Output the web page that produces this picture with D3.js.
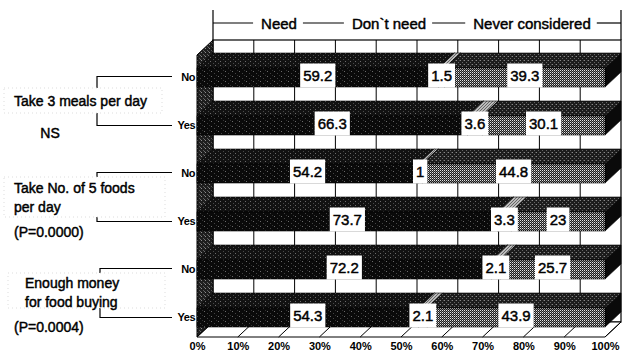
<!DOCTYPE html>
<html>
<head>
<meta charset="utf-8">
<script src="https://cdn.jsdelivr.net/npm/d3@7"></script>
<style>
  html, body { margin: 0; padding: 0; background: #fff; }
  svg { display: block; font-family: "Liberation Sans", Arial, sans-serif; }
</style>
</head>
<body>
<svg id="chart" width="627" height="356"></svg>
<script>
// ---------------- data ----------------
const seriesNames = ["Need", "Don`t need", "Never considered"];
const rowLabels = ["No", "Yes", "No", "Yes", "No", "Yes"];
const need      = [59.2, 66.3, 54.2, 73.7, 72.2, 54.3];
const dontNeed  = [1.5, 3.6, 1, 3.3, 2.1, 2.1];
const never     = [39.3, 30.1, 44.8, 23, 25.7, 43.9];
const groupLines = [["Take 3 meals per day"], ["Take No. of 5 foods", "per day"], ["Enough money", "for food buying"]];
const groupStats = ["NS", "(P=0.0000)", "(P=0.0004)"];
const tickValues = [0, 10, 20, 30, 40, 50, 60, 70, 80, 90, 100];

// ---------------- setup ----------------
const svg = d3.select("#chart");
const x = d3.scaleLinear().domain([0, 100]).range([197, 605]);
const y = d3.scalePoint().domain(d3.range(rowLabels.length)).range([68, 308]);
const BH = 19, DX = 16, DY = 15;
const wallTop = 40, floorFront = 337, floorBack = floorFront - DY;

const defs = svg.append("defs");
function pat(id, w, h, bg, dots) {
  const p = defs.append("pattern").attr("id", id).attr("patternUnits", "userSpaceOnUse")
    .attr("width", w).attr("height", h);
  p.append("rect").attr("width", w).attr("height", h).attr("fill", bg);
  dots.forEach(d => p.append("rect").attr("x", d[0]).attr("y", d[1]).attr("width", d[2] || 1).attr("height", d[3] || 1).attr("fill", d[4]));
}
pat("blk", 7, 5, "#0a0a0a", [[1, 1, 1, 1, "#6a6a6a"], [4, 3, 1, 1, "#444"], [6, 0, 1, 1, "#333"]]);
pat("blkTop", 5, 4, "#121212", [[0, 1, 1, 1, "#6a6a6a"], [3, 3, 1, 1, "#4a4a4a"]]);
pat("chk", 2, 2, "#1c1c1c", [[0, 0, 1, 1, "#e4e4e4"], [1, 1, 1, 1, "#7a7a7a"]]);
pat("chkTop", 4, 4, "#1c1c1c", [[0, 0, 1, 1, "#888"], [2, 2, 1, 1, "#666"], [3, 0, 1, 1, "#444"]]);
pat("mid", 3, 3, "#999", [[0, 0, 1, 1, "#444"], [1, 1, 1, 1, "#555"], [2, 2, 1, 1, "#444"]]);
pat("midTop", 3, 3, "#bbb", [[0, 2, 1, 1, "#666"], [1, 1, 1, 1, "#666"], [2, 0, 1, 1, "#666"]]);
pat("wall", 4, 4, "#1e1e1e", [[1, 0, 1, 1, "#8a8a8a"], [3, 2, 1, 1, "#5a5a5a"], [0, 3, 1, 1, "#6a6a6a"]]);

const fills = [
  { front: "url(#blk)", top: "url(#blkTop)", side: "#0a0a0a" },
  { front: "url(#mid)", top: "url(#midTop)", side: "#333" },
  { front: "url(#chk)", top: "url(#chkTop)", side: "#0a0a0a" }
];

// ---------------- back wall, grid, side wall, floor ----------------
const g3d = svg.append("g");
g3d.append("rect").attr("x", x(0) + DX).attr("y", wallTop)
  .attr("width", x(100) - x(0)).attr("height", floorBack - wallTop)
  .attr("fill", "#fff").attr("stroke", "#000").attr("stroke-width", 1.2);
g3d.selectAll("line.grid").data(tickValues.slice(1, -1)).join("line")
  .attr("class", "grid")
  .attr("x1", d => x(d) + DX).attr("x2", d => x(d) + DX)
  .attr("y1", wallTop).attr("y2", floorBack)
  .attr("stroke", "#000").attr("stroke-width", 1);

g3d.append("path")
  .attr("d", `M${x(0)},${wallTop + DY} L${x(0) + DX},${wallTop} L${x(0) + DX},${floorBack} L${x(0)},${floorFront} Z`)
  .attr("fill", "url(#wall)").attr("stroke", "#000").attr("stroke-width", 1);

g3d.append("path")
  .attr("d", `M${x(0)},${floorFront} L${x(0) + DX},${floorBack} L${x(100) + DX},${floorBack} L${x(100)},${floorFront} Z`)
  .attr("fill", "#fff").attr("stroke", "#000").attr("stroke-width", 1);
g3d.selectAll("line.floor").data(tickValues).join("line")
  .attr("class", "floor")
  .attr("x1", d => x(d)).attr("y1", floorFront)
  .attr("x2", d => x(d) + DX).attr("y2", floorBack)
  .attr("stroke", "#000").attr("stroke-width", 1);

// ---------------- bars ----------------
const rows = rowLabels.map((lab, i) => {
  const vals = [need[i], dontNeed[i], never[i]];
  let acc = 0;
  const segs = vals.map((v, k) => { const s = { k, v, x0: acc, x1: acc + v, row: i }; acc += v; return s; });
  return { lab, i, segs };
});

const barG = svg.append("g");
rows.forEach(r => {
  const yt = y(r.i), yb = yt + BH;
  r.segs.forEach(s => {
    const a = x(s.x0), b = x(Math.min(100, s.x1));
    const f = fills[s.k];
    barG.append("path")
      .attr("d", `M${b},${yt} L${b + DX},${yt - DY} L${b + DX},${yb - DY} L${b},${yb} Z`)
      .attr("fill", f.side).attr("stroke", "#000").attr("stroke-width", 0.6);
    barG.append("path")
      .attr("d", `M${a},${yt} L${a + DX},${yt - DY} L${b + DX},${yt - DY} L${b},${yt} Z`)
      .attr("fill", f.top).attr("stroke", "#000").attr("stroke-width", 0.6);
    barG.append("rect").attr("x", a).attr("y", yt).attr("width", b - a).attr("height", BH)
      .attr("fill", f.front).attr("stroke", "#000").attr("stroke-width", 0.6);
  });
});

// value labels
const labG = svg.append("g").attr("font-size", 15).attr("fill", "#000");
rows.forEach(r => {
  const yc = y(r.i) + BH / 2 - 2;
  r.segs.forEach(s => {
    const cx = (x(s.x0) + x(Math.min(100, s.x1))) / 2;
    const t = labG.append("text").attr("x", cx).attr("y", yc)
      .attr("text-anchor", "middle").attr("dominant-baseline", "central")
      .attr("stroke", "#000").attr("stroke-width", 0.45)
      .text(String(s.v));
    const w = t.node().getComputedTextLength();
    labG.insert("rect", () => t.node())
      .attr("x", cx - w / 2 - 3).attr("y", yc - 12).attr("width", w + 6).attr("height", 24)
      .attr("fill", "#fff");
  });
});

// ---------------- bottom axis ----------------
const axis = svg.append("g").attr("transform", `translate(0,${floorFront + 3})`)
  .call(d3.axisBottom(x).tickValues(tickValues).tickSize(0).tickPadding(2).tickFormat(d => d + "%"));
axis.select(".domain").remove();
axis.selectAll("text").attr("font-size", 11).attr("font-weight", "bold")
  .attr("font-family", "Liberation Sans, Arial, sans-serif").attr("fill", "#000");

// ---------------- row labels & brackets ----------------
const leftG = svg.append("g");
leftG.selectAll("text.row").data(rowLabels).join("text")
  .attr("class", "row")
  .attr("x", 195).attr("y", (d, i) => y(i) + BH / 2 - 1)
  .attr("text-anchor", "end").attr("dominant-baseline", "central")
  .attr("font-size", 11).attr("font-weight", "bold").attr("letter-spacing", -0.5)
  .text(d => d);

const bracketX = [97, 97, 100];
const boxes = [
  { x: 4, y: 88, w: 158, h: 25, tx: 14, ty: [101] },
  { x: 4, y: 177, w: 161, h: 40, tx: 14, ty: [188, 207] },
  { x: 8, y: 273, w: 157, h: 35, tx: 25, ty: [283, 302] }
];
const statPos = [{ x: 50, y: 133, anchor: "middle" }, { x: 14, y: 232, anchor: "start" }, { x: 14, y: 327, anchor: "start" }];

groupLines.forEach((lines, g) => {
  const yTop = y(2 * g) + BH / 2 - 1, yBot = y(2 * g + 1) + BH / 2;
  leftG.append("path")
    .attr("d", `M172,${yTop} H${bracketX[g]} V${yBot} H172`)
    .attr("fill", "none").attr("stroke", "#000").attr("stroke-width", 1.2);
  const b = boxes[g];
  leftG.append("rect").attr("x", b.x).attr("y", b.y).attr("width", b.w).attr("height", b.h)
    .attr("fill", "#fff").attr("stroke", "#d4d4d4").attr("stroke-width", 0.8).attr("stroke-dasharray", "1,3");
  lines.forEach((ln, j) => {
    leftG.append("text").attr("x", b.tx).attr("y", b.ty[j])
      .attr("dominant-baseline", "central").attr("font-size", 14)
      .attr("stroke", "#000").attr("stroke-width", 0.45)
      .text(ln);
  });
  const sp = statPos[g];
  leftG.append("text").attr("x", sp.x).attr("y", sp.y).attr("text-anchor", sp.anchor)
    .attr("dominant-baseline", "central").attr("font-size", 14)
    .attr("stroke", "#000").attr("stroke-width", 0.45)
    .text(groupStats[g]);
});

// ---------------- top legend ----------------
const legY = 23;
const legCenters = [279, 389, 532];
const legG = svg.append("g");
const legX0 = x(0) + DX, legX1 = x(100) + DX;
const extents = [];
seriesNames.forEach((n, k) => {
  const t = legG.append("text").attr("x", legCenters[k]).attr("y", legY)
    .attr("text-anchor", "middle").attr("dominant-baseline", "central")
    .attr("font-size", 15).attr("stroke", "#000").attr("stroke-width", 0.45).text(n);
  const w = t.node().getComputedTextLength();
  extents.push([legCenters[k] - w / 2, legCenters[k] + w / 2]);
});
const segs = [];
let prev = legX0;
extents.forEach(e => { segs.push([prev, e[0] - 8]); prev = e[1] + 6; });
segs.push([prev, legX1]);
legG.selectAll("line.leg").data(segs).join("line").attr("class", "leg")
  .attr("x1", d => d[0]).attr("x2", d => d[1]).attr("y1", legY).attr("y2", legY)
  .attr("stroke", "#000").attr("stroke-width", 1.2);
[legX0, legX1].forEach(xx => legG.append("line").attr("x1", xx).attr("x2", xx)
  .attr("y1", 10).attr("y2", wallTop).attr("stroke", "#000").attr("stroke-width", 1.2));
</script>
</body>
</html>
